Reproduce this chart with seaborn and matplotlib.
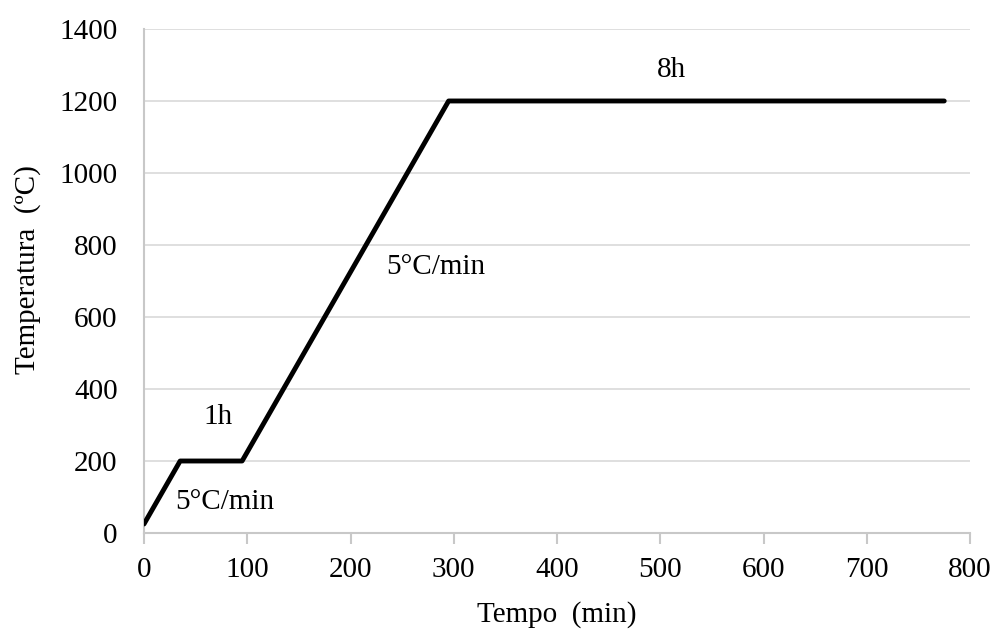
import matplotlib
matplotlib.use("Agg")
import matplotlib.pyplot as plt
import seaborn as sns
import pandas as pd

tempo = [0, 35, 95, 295, 775]
temperatura = [25, 200, 200, 1200, 1200]
x_ticks = [0, 100, 200, 300, 400, 500, 600, 700, 800]
y_ticks = [0, 200, 400, 600, 800, 1000, 1200, 1400]
annotations = [("5°C/min", 78, 86), ("1h", 72, 322), ("5°C/min", 283, 738), ("8h", 511, 1286)]

sns.set_theme(style="white")
plt.rcParams['font.family'] = ['Liberation Serif', 'DejaVu Serif']
plt.rcParams['text.color'] = 'black'
plt.rcParams['axes.labelcolor'] = 'black'
plt.rcParams['xtick.color'] = 'black'
plt.rcParams['ytick.color'] = 'black'

df = pd.DataFrame({"Tempo": tempo, "Temperatura": temperatura})

fig = plt.figure(figsize=(9.98, 6.34), dpi=100)
ax = fig.add_axes([0.1443, 0.1593, 0.972 - 0.1443, 0.9543 - 0.1593])
sns.lineplot(data=df, x="Tempo", y="Temperatura", ax=ax, color="black", linewidth=3.5, sort=False, zorder=3)

ax.set_xlim(0, 800)
ax.set_ylim(0, 1400)
ax.set_xticks(x_ticks)
ax.set_yticks(y_ticks)
ax.yaxis.grid(True, color="#d9d9d9", linewidth=1.2)
ax.set_axisbelow(True)
for s in ["top", "right"]:
    ax.spines[s].set_visible(False)
for s in ["left", "bottom"]:
    ax.spines[s].set_color("#c8c8c8")
    ax.spines[s].set_linewidth(1.5)
ax.tick_params(axis="x", direction="out", length=8, width=1.5, color="#c8c8c8",
               labelcolor="black", labelsize=21, pad=9, bottom=True)
ax.tick_params(axis="y", length=0, labelsize=21, labelcolor="black", pad=19, left=False)
ax.set_xlabel("Tempo  (min)", fontsize=21, labelpad=13)
ax.set_ylabel("Temperatura  (ºC)", fontsize=21)
ax.yaxis.set_label_coords(-0.125, 0.523)

for txt, x, y in annotations:
    ax.text(x, y, txt, fontsize=21, ha="center", va="center")

fig.savefig("out.png", dpi=100)
